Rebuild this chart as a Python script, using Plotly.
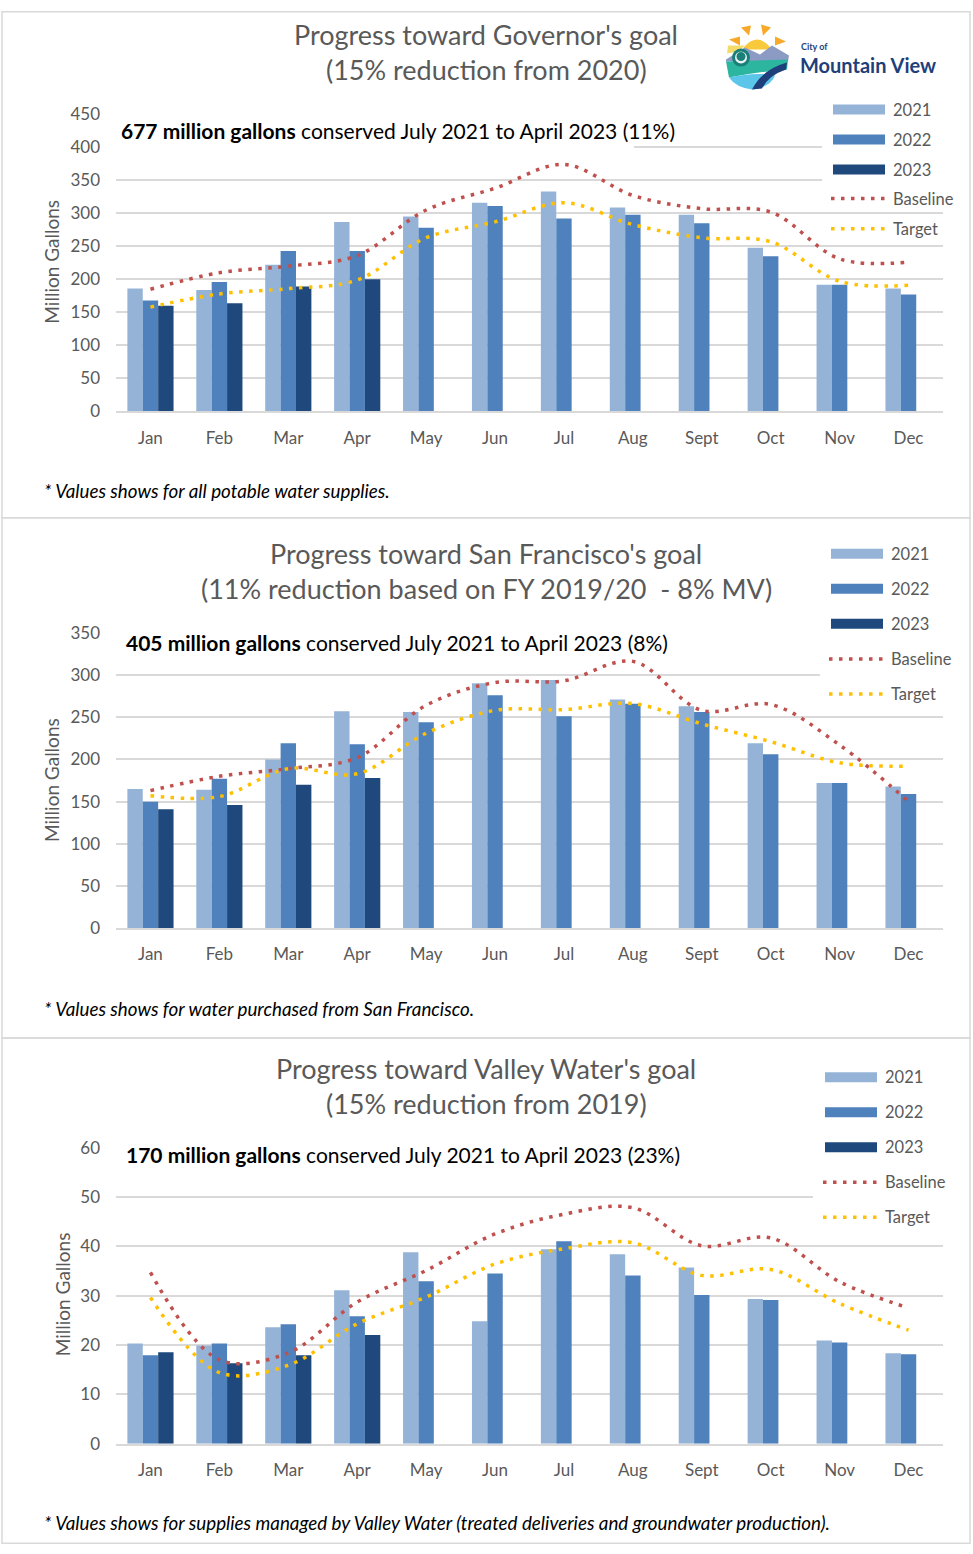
import plotly.graph_objects as go

W, H = 973, 1554

months = ["Jan", "Feb", "Mar", "Apr", "May", "Jun", "Jul", "Aug", "Sept", "Oct", "Nov", "Dec"]

# Panel 1: Governor's goal (all potable water supplies)
gov_2021 = [186, 184, 222, 287, 295, 316, 333, 309, 298, 248, 192, 186]
gov_2022 = [168, 196, 243, 243, 278, 311, 292, 298, 285, 235, 192, 177]
gov_2023 = [160, 164, 189, 200, None, None, None, None, None, None, None, None]
gov_baseline = [185, 210, 220, 236, 305, 338, 374, 327, 307, 302, 231, 226]
gov_target = [158, 178, 186, 199, 263, 287, 316, 283, 263, 257, 197, 191]

# Panel 2: San Francisco's goal (water purchased from SF)
sf_2021 = [165, 164, 200, 257, 256, 290, 294, 271, 263, 219, 172, 168]
sf_2022 = [150, 177, 219, 218, 244, 276, 251, 266, 256, 206, 172, 159]
sf_2023 = [141, 146, 170, 178, None, None, None, None, None, None, None, None]
sf_baseline = [163, 180, 189, 202, 264, 291, 293, 316, 258, 265, 217, 150]
sf_target = [157, 156, 189, 183, 231, 258, 259, 266, 242, 221, 196, 192]

# Panel 3: Valley Water's goal
vw_2021 = [20.3, 19.9, 23.6, 31.1, 38.8, 24.8, 39.4, 38.4, 35.7, 29.3, 20.9, 18.3]
vw_2022 = [17.9, 20.3, 24.2, 25.8, 32.9, 34.5, 41.0, 34.1, 30.1, 29.1, 20.5, 18.1]
vw_2023 = [18.5, 16.3, 17.9, 22.0, None, None, None, None, None, None, None, None]
vw_baseline = [34.7, 17.0, 18.4, 28.7, 35.1, 42.5, 46.5, 47.8, 40.1, 41.7, 32.8, 27.5]
vw_target = [29.6, 14.4, 15.9, 24.3, 29.7, 36.4, 39.5, 40.7, 34.1, 35.3, 28.4, 23.0]

titles = [
    ("Progress toward Governor's goal", "(15% reduction from 2020)"),
    ("Progress toward San Francisco's goal", "(11% reduction based on FY 2019/20  - 8% MV)"),
    ("Progress toward Valley Water's goal", "(15% reduction from 2019)"),
]
headlines = [
    ("677 million gallons", " conserved July 2021 to April 2023 (11%)"),
    ("405 million gallons", " conserved July 2021 to April 2023 (8%)"),
    ("170 million gallons", " conserved July 2021 to April 2023 (23%)"),
]
footnotes = [
    "* Values shows for all potable water supplies.",
    "* Values shows for water purchased from San Francisco.",
    "* Values shows for supplies managed by Valley Water (treated deliveries and groundwater production).",
]
year_names = ["2021", "2022", "2023"]
line_names = ["Baseline", "Target"]

C2021, C2022, C2023 = "#95b3d7", "#4f81bd", "#1f497d"
CBASE, CTARGET = "#c0504d", "#ffc000"
GREY = "#595959"
GRID = "#d9d9d9"
FONT = "Lato"
DOT = "3.5px,6.5px"

# layout helper: reference pixel position -> paper fraction
# (vertical positions compensate the capture's vertical offset/scale)
Y_OFF, Y_SCALE = 11.5, 0.9859

def px(x):
    return x / W

def py(y):
    yy = (y - Y_OFF) / Y_SCALE
    yy = min(max(yy, 0.75), H - 0.75)
    return 1 - yy / H

panels = [
    dict(y2021=gov_2021, y2022=gov_2022, y2023=gov_2023, base=gov_baseline, tgt=gov_target,
         ymax=450, dtick=50, bottom=411.7, top=114.7, title_y=(35, 70), head=(119, 131),
         foot_y=491, ytitle=(52, 262), legx=833, legy=[110, 140, 170, 199, 229],
         masks=[(116, 634, 100, 156), (822, 955, 92, 205)]),
    dict(y2021=sf_2021, y2022=sf_2022, y2023=sf_2023, base=sf_baseline, tgt=sf_target,
         ymax=350, dtick=50, bottom=928.3, top=632.8, title_y=(554, 589), head=(124, 643),
         foot_y=1008, ytitle=(52, 780), legx=831, legy=[554, 589, 624, 659, 694],
         masks=[(116, 630, 622, 646), (820, 955, 535, 706)]),
    dict(y2021=vw_2021, y2022=vw_2022, y2023=vw_2023, base=vw_baseline, tgt=vw_target,
         ymax=60, dtick=10, bottom=1443.3, top=1147.4, title_y=(1068, 1103), head=(124, 1154),
         foot_y=1522, ytitle=(62, 1294), legx=825, legy=[1077, 1112, 1147, 1182, 1217],
         masks=[(116, 729, 1138, 1188), (813, 955, 1058, 1232)]),
]

fig = go.Figure()
shapes = []
annotations = []

# panel frames
frames = [(2, 970, 1, 518), (2, 970, 518, 1038), (2, 970, 1038, 1552)]
for x0, x1, y0, y1 in frames:
    shapes.append(dict(type="rect", xref="paper", yref="paper", x0=px(x0), x1=px(x1),
                       y0=py(y1), y1=py(y0), line=dict(color=GRID, width=1.5),
                       fillcolor="rgba(0,0,0,0)", layer="below"))

for i, p in enumerate(panels):
    n = "" if i == 0 else str(i + 1)
    xa, ya = "x" + n, "y" + n
    for name, vals, col in zip(year_names, [p["y2021"], p["y2022"], p["y2023"]], [C2021, C2022, C2023]):
        fig.add_trace(go.Bar(x=months, y=vals, name=name, marker=dict(color=col, line=dict(width=0)),
                             xaxis=xa, yaxis=ya, showlegend=False))
    for name, vals, col in zip(line_names, [p["base"], p["tgt"]], [CBASE, CTARGET]):
        fig.add_trace(go.Scatter(x=months, y=vals, name=name, mode="lines",
                                 line=dict(color=col, width=3.5, dash=DOT, shape="spline", smoothing=1),
                                 xaxis=xa, yaxis=ya, showlegend=False))
    fig.layout["xaxis" + n] = dict(
        domain=[px(116), px(943)], anchor=ya, showgrid=False, showline=True, linecolor=GRID, linewidth=1.5,
        tickfont=dict(family=FONT, size=17, color=GREY), ticks="", ticklabelstandoff=10, fixedrange=True)
    fig.layout["yaxis" + n] = dict(
        domain=[py(p["bottom"]), py(p["top"])], anchor=xa, range=[0, p["ymax"]], dtick=p["dtick"], tick0=0,
        showgrid=True, gridcolor=GRID, gridwidth=1.5, zeroline=False, showline=False,
        tickfont=dict(family=FONT, size=17, color=GREY), ticks="", ticklabelstandoff=15, fixedrange=True)

    # masks hiding gridlines behind the text box and the legend
    for x0, x1, y0, y1 in p["masks"]:
        shapes.append(dict(type="rect", xref="paper", yref="paper", x0=px(x0), x1=px(x1),
                           y0=py(y1), y1=py(y0), line=dict(width=0), fillcolor="white", layer="above"))

    # titles
    t1, t2 = titles[i]
    for txt, yy in zip((t1, t2), p["title_y"]):
        annotations.append(dict(text=txt, x=px(486), y=py(yy), xref="paper", yref="paper",
                                xanchor="center", yanchor="middle", showarrow=False,
                                font=dict(family=FONT, size=27, color=GREY)))
    hb, hr = headlines[i]
    annotations.append(dict(text="<b>" + hb + "</b>" + hr, x=px(p["head"][0]), y=py(p["head"][1]),
                            xref="paper", yref="paper", xanchor="left", yanchor="middle", showarrow=False,
                            font=dict(family=FONT, size=21, color="black")))
    annotations.append(dict(text="<i>" + footnotes[i] + "</i>", x=px(42), y=py(p["foot_y"]),
                            xref="paper", yref="paper", xanchor="left", yanchor="middle", showarrow=False,
                            font=dict(family=FONT, size=18.8, color="black")))
    annotations.append(dict(text="Million Gallons", x=px(p["ytitle"][0]), y=py(p["ytitle"][1]),
                            xref="paper", yref="paper", xanchor="center", yanchor="middle", showarrow=False,
                            textangle=-90, font=dict(family=FONT, size=19, color=GREY)))

    # custom legend
    lx = p["legx"]
    for k, (name, col) in enumerate(zip(year_names, [C2021, C2022, C2023])):
        yy = p["legy"][k]
        shapes.append(dict(type="rect", xref="paper", yref="paper", x0=px(lx), x1=px(lx + 52),
                           y0=py(yy + 5), y1=py(yy - 5), line=dict(width=0), fillcolor=col, layer="above"))
    for k, (name, col) in enumerate(zip(line_names, [CBASE, CTARGET])):
        yy = p["legy"][3 + k]
        shapes.append(dict(type="line", xref="paper", yref="paper", x0=px(lx - 2), x1=px(lx + 54),
                           y0=py(yy), y1=py(yy), line=dict(color=col, width=3.5, dash=DOT),
                           layer="above"))
    for k, name in enumerate(year_names + line_names):
        annotations.append(dict(text=name, x=px(lx + 58), y=py(p["legy"][k]), xref="paper", yref="paper",
                                xanchor="left", yanchor="middle", showarrow=False,
                                font=dict(family=FONT, size=16.5, color=GREY)))

# ---- simplified City of Mountain View logo ----
def P(x, y):
    return f"{px(x):.5f},{py(y):.5f}"

def circle_shape(x, y, rad, col):
    return dict(type="circle", xref="paper", yref="paper", x0=px(x - rad), x1=px(x + rad),
                y0=py(y + rad), y1=py(y - rad), fillcolor=col, line=dict(width=0), layer="above")

def path_shape(d, col):
    return dict(type="path", xref="paper", yref="paper", path=d, fillcolor=col,
                line=dict(width=0), layer="above")

# sun rays
for (ax, ay), (bx, by), (qx, qy) in [((741, 28), (751, 26), (749, 36)), ((761, 25), (771, 28), (763, 36)),
                                     ((775, 37), (786, 42), (775, 46)), ((729, 40), (740, 37), (740, 46))]:
    shapes.append(path_shape(f"M{P(ax, ay)} L{P(bx, by)} L{P(qx, qy)} Z", "#f7a928"))
shapes.append(path_shape(f"M{P(742, 50)} Q{P(757, 30)} {P(772, 50)} Z", "#f9c93c"))
shapes.append(path_shape(f"M{P(728, 46)} L{P(745, 46)} L{P(738, 52)} L{P(727, 54)} Z", "#f3dc6b"))
# mountains
shapes.append(path_shape(
    f"M{P(726, 60)} L{P(745, 48)} L{P(760, 55)} L{P(772, 46)} L{P(789, 56)} L{P(788, 62)} L{P(726, 62)} Z",
    "#8b9bc4"))
# teal land
shapes.append(path_shape(f"M{P(726, 62)} L{P(788, 60)} L{P(787, 70)} Q{P(760, 72)} {P(729, 78)} Z", "#2cb59f"))
# light blue water
shapes.append(path_shape(
    f"M{P(729, 78)} Q{P(755, 72)} {P(775, 76)} Q{P(770, 88)} {P(752, 90)} Q{P(736, 88)} {P(729, 78)} Z",
    "#5cc5ea"))
# road
shapes.append(path_shape(
    f"M{P(752, 90)} Q{P(762, 70)} {P(787, 63)} L{P(786, 70)} Q{P(768, 76)} {P(762, 89)} Z", "#1f3f7a"))
# tree
shapes.append(circle_shape(741, 58, 9, "#1b7f79"))
shapes.append(circle_shape(741, 58, 6, "#e7f4ef"))
shapes.append(circle_shape(741, 57, 4.5, "#1b7f79"))
annotations.append(dict(text="<b>City of</b>", x=px(799), y=py(47), xref="paper", yref="paper",
                        xanchor="left", yanchor="middle", showarrow=False,
                        font=dict(family=FONT, size=9, color="#1f3f7a")))
annotations.append(dict(text="<b>Mountain View</b>", x=px(798), y=py(65), xref="paper", yref="paper",
                        xanchor="left", yanchor="middle", showarrow=False,
                        font=dict(family=FONT, size=20, color="#1f3f7a")))

fig.update_layout(
    width=W, height=H, margin=dict(l=0, r=0, t=0, b=0),
    paper_bgcolor="white", plot_bgcolor="white",
    barmode="group", bargap=0.33, bargroupgap=0,
    showlegend=False, shapes=shapes, annotations=annotations,
    font=dict(family=FONT, color=GREY),
)

post = (
    "document.documentElement.style.margin='0';"
    "document.documentElement.style.overflow='hidden';"
    "document.body.style.margin='0';document.body.style.padding='0';"
    "var gd=document.getElementsByClassName('plotly-graph-div')[0];"
    "gd.style.position='absolute';gd.style.top='0px';gd.style.left='0px';"
)
fig.write_html("out.html", post_script=post, config={"displayModeBar": False})
